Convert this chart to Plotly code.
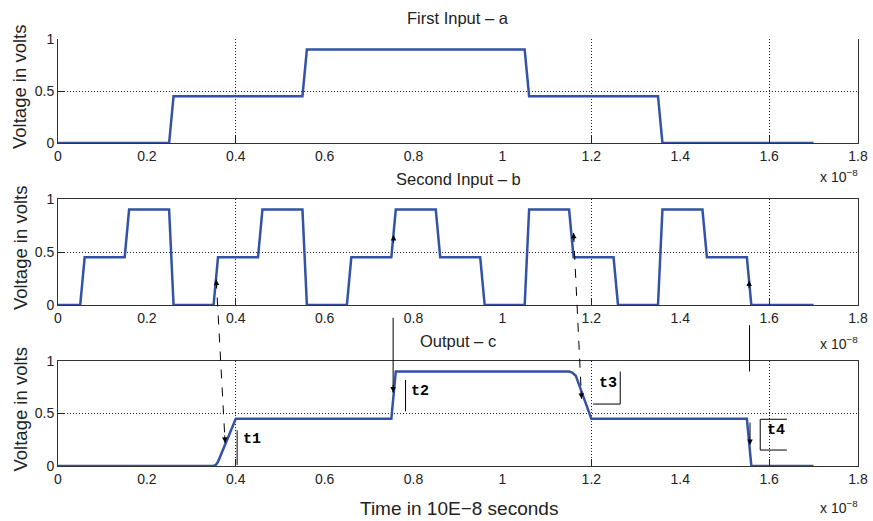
import plotly.graph_objects as go

# ---- signal data (time in units of 1e-8 s, voltage in volts) ----
a_time = [0, 0.25, 0.26, 0.55, 0.56, 1.05, 1.06, 1.35, 1.36, 1.70]
a_volt = [0, 0, 0.45, 0.45, 0.9, 0.9, 0.45, 0.45, 0, 0]

b_time = [0, 0.05, 0.06, 0.15, 0.16, 0.25, 0.26, 0.35, 0.36, 0.45, 0.46, 0.55,
          0.56, 0.65, 0.66, 0.75, 0.76, 0.85, 0.86, 0.95, 0.96, 1.05, 1.06, 1.15,
          1.16, 1.25, 1.26, 1.35, 1.36, 1.45, 1.46, 1.55, 1.56, 1.70]
b_volt = [0, 0, 0.45, 0.45, 0.9, 0.9, 0, 0, 0.45, 0.45, 0.9, 0.9,
          0, 0, 0.45, 0.45, 0.9, 0.9, 0.45, 0.45, 0, 0, 0.9, 0.9,
          0.45, 0.45, 0, 0, 0.9, 0.9, 0.45, 0.45, 0, 0]

c_time = [0, 0.35, 0.355, 0.36, 0.40, 0.75, 0.76, 1.15, 1.157, 1.165, 1.20, 1.55, 1.56, 1.70]
c_volt = [0, 0, 0.01, 0.04, 0.45, 0.45, 0.9, 0.9, 0.89, 0.86, 0.45, 0.45, 0, 0]

x_ticks = [0, 0.2, 0.4, 0.6, 0.8, 1.0, 1.2, 1.4, 1.6, 1.8]
x_tick_text = ["0", "0.2", "0.4", "0.6", "0.8", "1", "1.2", "1.4", "1.6", "1.8"]
y_ticks = [0, 0.5, 1]
y_tick_text = ["0", "0.5", "1"]
grid_x = [0.4, 1.2, 1.6]
grid_y = [0.5]

titles = ["First Input \u2013 a", "Second Input \u2013 b", "Output \u2013 c"]
y_title = "Voltage in volts"
x_title = "Time in 10E\u22128 seconds"
exp_label = "x 10<sup>\u22128</sup>"

# ---- layout geometry ----
W, H = 873, 521
BLUE = "#3452a6"
AX = "#333333"
FONT = "Liberation Sans, Arial, sans-serif"
MONO = "Liberation Mono, Courier New, monospace"
DOTS = "1px,2px"

XDOM = [58 / W, 858 / W]
# (top_px, bottom_px) of each panel
PANELS_PX = [(39, 143), (199, 305), (361, 466)]
YDOMS = [[1 - b / H, 1 - t / H] for t, b in PANELS_PX]
XMAX = 1.8


def to_paper(x, y, panel):
    """Map data (x, y) of a panel (1-based) to paper coordinates."""
    d = YDOMS[panel - 1]
    return (XDOM[0] + x / XMAX * (XDOM[1] - XDOM[0]),
            d[0] + y * (d[1] - d[0]))


fig = go.Figure()
series = [(a_time, a_volt), (b_time, b_volt), (c_time, c_volt)]
for i, (t, v) in enumerate(series, start=1):
    sfx = "" if i == 1 else str(i)
    fig.add_trace(go.Scatter(x=t, y=v, mode="lines",
                             line=dict(color=BLUE, width=2.5),
                             xaxis="x" + sfx, yaxis="y" + sfx,
                             showlegend=False, hoverinfo="skip"))

layout = dict(width=W, height=H, autosize=False,
              margin=dict(l=0, r=0, t=0, b=0, autoexpand=False),
              paper_bgcolor="white", plot_bgcolor="white",
              font=dict(family=FONT, size=14, color="#222"))
for i in range(1, 4):
    sfx = "" if i == 1 else str(i)
    layout["xaxis" + sfx] = dict(
        domain=XDOM, range=[0, XMAX], anchor="y" + sfx,
        tickmode="array", tickvals=x_ticks, ticktext=x_tick_text,
        ticks="", showgrid=False, zeroline=False,
        showline=True, linecolor=AX, linewidth=1, mirror=(i != 1),
        tickfont=dict(size=14, color="#222"),
        minor=dict(tickmode="array", tickvals=grid_x, ticks="inside",
                   ticklen=7, tickcolor="#222", showgrid=True,
                   gridcolor="#222", griddash=DOTS, gridwidth=1),
    )
    layout["yaxis" + sfx] = dict(
        domain=YDOMS[i - 1], range=[0, 1], anchor="x" + sfx,
        tickmode="array", tickvals=y_ticks, ticktext=y_tick_text,
        ticks="", showgrid=False, zeroline=False,
        showline=True, linecolor=AX, linewidth=1, mirror=True,
        tickfont=dict(size=14, color="#222"),
        minor=dict(tickmode="array", tickvals=grid_y, ticks="inside",
                   ticklen=7, tickcolor="#222", showgrid=True,
                   gridcolor="#222", griddash=DOTS, gridwidth=1),
    )
fig.update_layout(**layout)

ann = []
shapes = []


def label(text, xp, yp, size, **kw):
    """Free text placed at pixel position (xp, yp) of the figure."""
    d = dict(text=text, x=xp / W, y=1 - yp / H, xref="paper", yref="paper",
             showarrow=False, xanchor="center", yanchor="middle",
             font=dict(size=size))
    d.update(kw)
    ann.append(d)


# panel titles, y-axis titles and exponent labels
title_px = [18, 179, 341]
exp_px = [176, 343, 507]
cx = (58 + 858) / 2
for i in range(3):
    label(titles[i], cx, title_px[i], 16.5)
    top, bot = PANELS_PX[i]
    label(y_title, 20, (top + bot) / 2 - 4, 18.5, textangle=-90)
    label(exp_label, 860, exp_px[i], 14, xanchor="right")
label(x_title, 459, 508, 19)


def head(p, toward, length=9):
    """Arrowhead at paper point p, tail lying toward paper point `toward`."""
    dxp = (toward[0] - p[0]) * W
    dyp = -(toward[1] - p[1]) * H
    n = (dxp ** 2 + dyp ** 2) ** 0.5
    return dict(x=p[0], y=p[1], xref="paper", yref="paper", text="",
                showarrow=True, arrowhead=2, arrowsize=1.1, arrowwidth=1,
                arrowcolor="black", standoff=0,
                ax=dxp / n * length, ay=dyp / n * length)


def seg(p, q, dash="solid"):
    shapes.append(dict(type="line", xref="paper", yref="paper",
                       x0=p[0], y0=p[1], x1=q[0], y1=q[1],
                       line=dict(color="black", width=1, dash=dash)))


# connector 1: b rising at 0.35 -> c starts rising (dashed)
p1 = to_paper(0.356, 0.24, 2)
q1 = to_paper(0.376, 0.22, 3)
seg(p1, q1, "dash")
ann += [head(p1, q1), head(q1, p1)]

# connector 2: b rising at 0.75 -> c rises at 0.75 (solid)
p2 = to_paper(0.755, 0.66, 2)
ann.append(head(p2, to_paper(0.755, 0.5, 2)))
q2 = to_paper(0.754, 0.70, 3)
r2 = to_paper(0.754, -0.12, 2)
seg(r2, q2)
ann.append(head(q2, r2))

# connector 3: b falling at 1.15 -> c falls (dashed)
p3 = to_paper(1.160, 0.68, 2)
q3 = to_paper(1.178, 0.64, 3)
seg(p3, q3, "dash")
ann += [head(p3, q3), head(q3, p3)]

# connector 4: b falling at 1.55 -> c falls at 1.55 (solid)
p4 = to_paper(1.555, 0.23, 2)
ann.append(head(p4, to_paper(1.555, 0.12, 2)))
seg(to_paper(1.556, -0.19, 2), to_paper(1.556, 0.9, 3))
q4 = to_paper(1.557, 0.20, 3)
ann.append(head(q4, to_paper(1.557, 0.44, 3), length=24))

# delay labels t1..t4 on the output panel
delay_labels = ["t1", "t2", "t3", "t4"]
label_pos = [(0.412, 0.25), (0.790, 0.71), (1.212, 0.79), (1.591, 0.34)]
for txt, (lx, ly) in zip(delay_labels, label_pos):
    ann.append(dict(text="<b>" + txt + "</b>", x=lx, y=ly, xref="x3", yref="y3",
                    xanchor="left", yanchor="middle", showarrow=False,
                    font=dict(family=MONO, size=15, color="black")))


def box_line(x0, y0, x1, y1):
    shapes.append(dict(type="line", xref="x3", yref="y3",
                       x0=x0, y0=y0, x1=x1, y1=y1,
                       line=dict(color="black", width=1)))


box_line(0.403, 0.01, 0.403, 0.34)     # t1 edge
box_line(0.782, 0.52, 0.782, 0.82)     # t2 edge
box_line(1.265, 0.59, 1.265, 0.90)     # t3 right edge
box_line(1.204, 0.59, 1.265, 0.59)     # t3 bottom edge
box_line(1.580, 0.445, 1.640, 0.445)   # t4 top edge
box_line(1.580, 0.152, 1.580, 0.445)   # t4 left edge
box_line(1.580, 0.152, 1.640, 0.152)   # t4 bottom edge

fig.update_layout(annotations=ann, shapes=shapes)

# page without the default body margin so the figure fills the window exactly
page_fix = ("document.body.style.margin='0';"
            "document.documentElement.style.overflow='hidden';"
            "window.dispatchEvent(new Event('resize'));")
fig.write_html("out.html", post_script=page_fix)
